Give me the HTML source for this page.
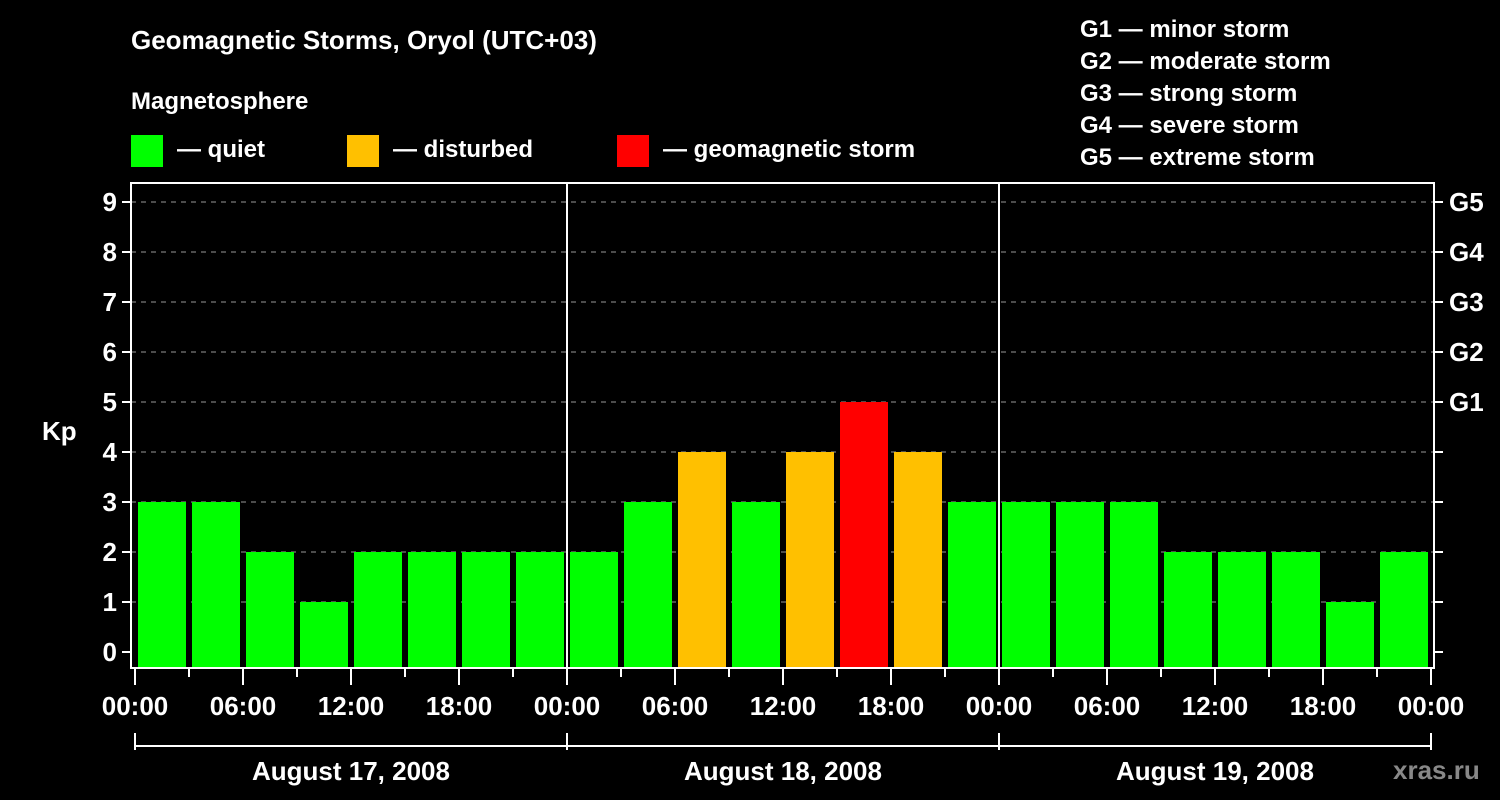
<!DOCTYPE html>
<html><head><meta charset="utf-8"><style>
body{margin:0;background:#000;}
svg{display:block;font-family:"Liberation Sans",sans-serif;font-weight:bold;}
</style></head><body>
<svg id="c" width="1500" height="800" viewBox="0 0 1500 800">
<rect width="1500" height="800" fill="#000"/>
<text x="131" y="49" fill="#fff" font-size="26">Geomagnetic Storms, Oryol (UTC+03)</text>
<text x="131" y="109" fill="#fff" font-size="24">Magnetosphere</text>
<g><rect x="131" y="135" width="32" height="32" fill="#00ff00"/><text x="177" y="157" fill="#fff" font-size="24">— quiet</text></g>
<g><rect x="347" y="135" width="32" height="32" fill="#ffc000"/><text x="393" y="157" fill="#fff" font-size="24">— disturbed</text></g>
<g><rect x="617" y="135" width="32" height="32" fill="#ff0000"/><text x="663" y="157" fill="#fff" font-size="24">— geomagnetic storm</text></g>
<g fill="#fff" font-size="24">
<text x="1080" y="37">G1 — minor storm</text>
<text x="1080" y="69">G2 — moderate storm</text>
<text x="1080" y="101">G3 — strong storm</text>
<text x="1080" y="133">G4 — severe storm</text>
<text x="1080" y="165">G5 — extreme storm</text>
</g>
<text x="42" y="440" fill="#fff" font-size="26">Kp</text>
<text x="1393" y="779" fill="#888" font-size="26">xras.ru</text>
<g id="plot"></g>
</svg>
<script>
const kpValues=[3,3,2,1,2,2,2,2, 2,3,4,3,4,5,4,3, 3,3,3,2,2,2,1,2];
const yTicks=[0,1,2,3,4,5,6,7,8,9];
const gLabels=["G1","G2","G3","G4","G5"];
const xTickLabels=["00:00","06:00","12:00","18:00"];
const dayLabels=["August 17, 2008","August 18, 2008","August 19, 2008"];
const NS="http://www.w3.org/2000/svg";
const g=document.getElementById('plot');
const L=131,R=1434,T=183,B=668,X0=135,DAY=432;
const y=v=>652-50*v;
const x=h=>X0+h*DAY/24;
function mk(t,a,p){const e=document.createElementNS(NS,t);for(const k in a)e.setAttribute(k,a[k]);(p||g).appendChild(e);return e;}
function col(v){return v>=5?'#ff0000':v>=4?'#ffc000':'#00ff00';}
yTicks.forEach(v=>{
 if(v>0){const gl=mk('line',{x1:L,x2:R,y1:y(v),y2:y(v),stroke:'#999','stroke-width':1,'stroke-dasharray':'5,5'});
 
 }
 mk('line',{x1:L-9,x2:L,y1:y(v),y2:y(v),stroke:'#fff','stroke-width':2});
 mk('line',{x1:R,x2:R+9,y1:y(v),y2:y(v),stroke:'#fff','stroke-width':2});
 const t=mk('text',{x:L-14,y:y(v)+9,'text-anchor':'end',fill:'#fff','font-size':26});
 t.textContent=v;
 
 
});
gLabels.forEach((s,i)=>{
 const t=mk('text',{x:R+15,y:y(i+5)+9,fill:'#fff','font-size':26});
 t.textContent=s;
 
 
});
kpValues.forEach((v,i)=>{
 const r=mk('rect',{x:x(i*3)+3,y:y(v),width:48,height:B-y(v),fill:col(v)});
 
 
});
mk('rect',{x:L,y:T,width:R-L,height:B-T,fill:'none',stroke:'#fff','stroke-width':2});
[1,2].forEach(d=>mk('line',{x1:x(d*24),x2:x(d*24),y1:T,y2:B,stroke:'#fff','stroke-width':2}));
for(let h=0;h<=72;h+=3){
 const major=h%6===0;
 mk('line',{x1:x(h),x2:x(h),y1:B,y2:B+(major?17:9),stroke:'#fff','stroke-width':2});
 if(major){const t=mk('text',{x:x(h),y:715,'text-anchor':'middle',fill:'#fff','font-size':26});
 t.textContent=xTickLabels[(h/6)%4];
 
 }
}
mk('line',{x1:x(0),x2:x(72),y1:746,y2:746,stroke:'#fff','stroke-width':2});
for(let d=0;d<=3;d++)mk('line',{x1:x(d*24),x2:x(d*24),y1:733,y2:750,stroke:'#fff','stroke-width':2});
dayLabels.forEach((s,d)=>{
 const t=mk('text',{x:x(d*24+12),y:780,'text-anchor':'middle',fill:'#fff','font-size':26});
 t.textContent=s;
 
 
});
</script>
</body></html>
